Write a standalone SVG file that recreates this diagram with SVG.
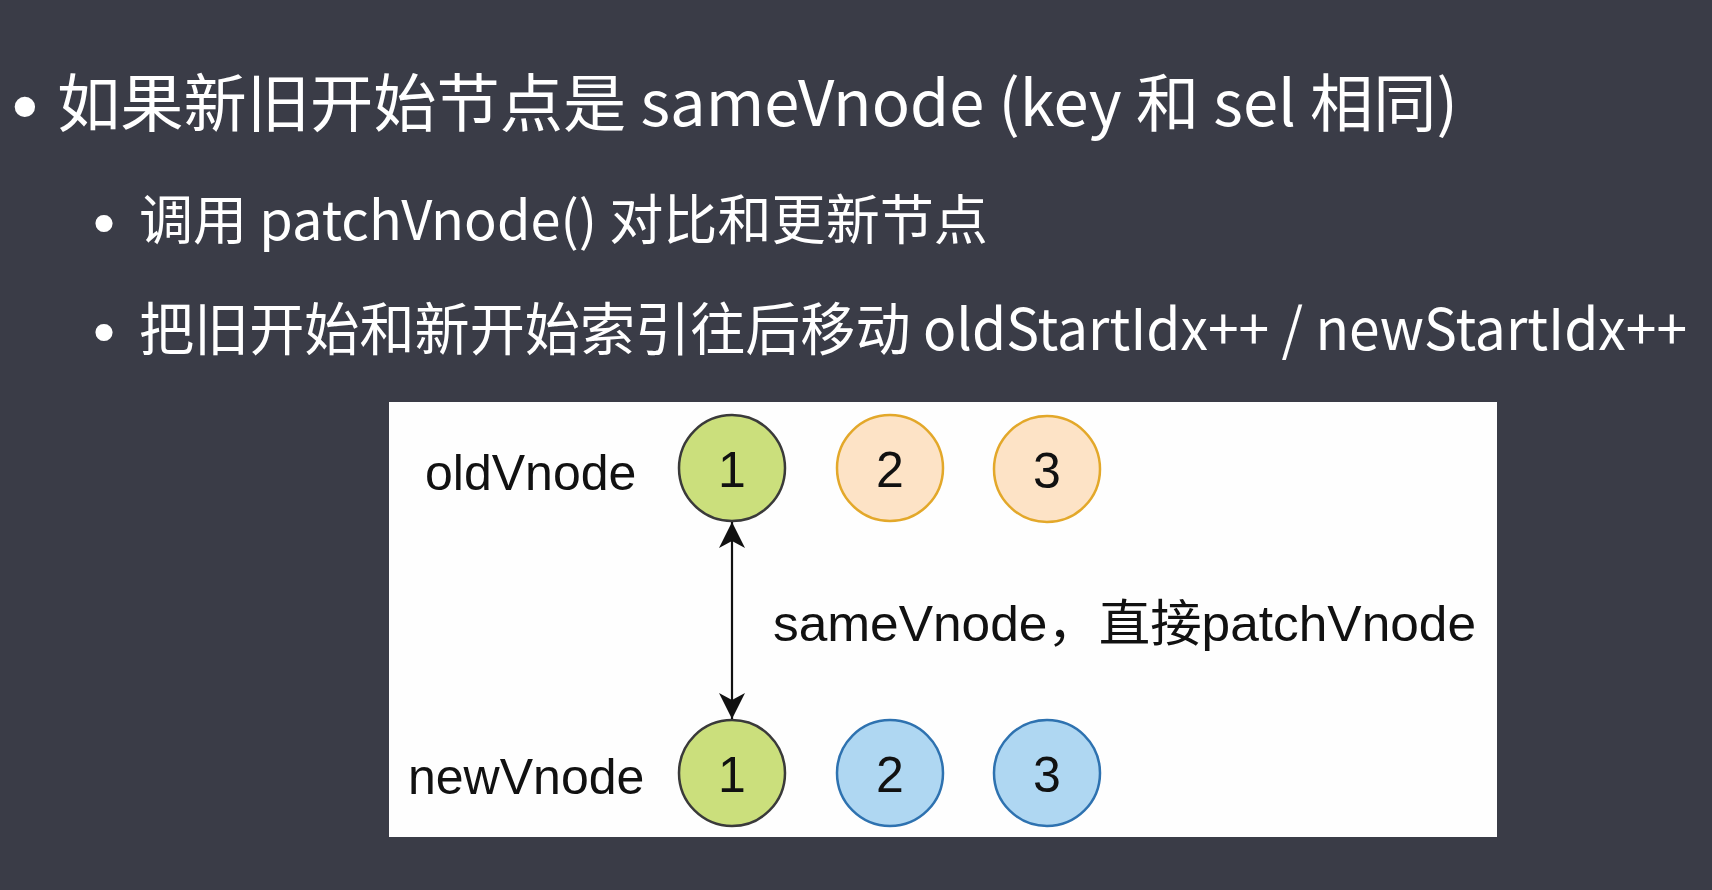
<svg xmlns="http://www.w3.org/2000/svg" width="1712" height="890" viewBox="0 0 1712 890">
<style>
.slide{font-family:"Noto Sans CJK SC","Noto Sans",sans-serif;fill:#ffffff;}
.bul{font-family:"Liberation Sans",Arial,sans-serif;fill:#ffffff;text-anchor:middle;}
.lbl{font-family:"Liberation Sans","Noto Sans CJK SC",Arial,sans-serif;fill:#111111;font-size:50px;}
.num{font-family:"Liberation Sans",Arial,sans-serif;fill:#111111;font-size:50px;text-anchor:middle;}
.green{fill:#cbdf7c;stroke:#3a3a3a;stroke-width:2.5;}
.orange{fill:#fde3c6;stroke:#e3a82a;stroke-width:2.5;}
.blue{fill:#afd7f2;stroke:#2e72b0;stroke-width:2.5;}
.conn{stroke:#111111;stroke-width:2.2;fill:none;}
</style>
<defs>
<marker id="arr" viewBox="0 0 26 26" refX="26" refY="13" markerWidth="26" markerHeight="26" markerUnits="userSpaceOnUse" orient="auto-start-reverse">
<path d="M0,0 L26,13 L0,26 L7,13 Z" fill="#111111"/>
</marker>
</defs>
<rect x="0" y="0" width="1712" height="890" fill="#3a3c47"/>
<g id="title">
<text class="bul" x="25" y="132" font-size="75">•</text>
<text class="slide" x="57" y="126" font-size="63" textLength="1401" lengthAdjust="spacingAndGlyphs">如果新旧开始节点是 sameVnode (key 和 sel 相同)</text>
</g>
<g id="bullet1">
<text class="bul" x="104" y="244" font-size="63">•</text>
<text class="slide" x="139" y="240" font-size="54" textLength="849" lengthAdjust="spacingAndGlyphs">调用 patchVnode() 对比和更新节点</text>
</g>
<g id="bullet2">
<text class="bul" x="104" y="353" font-size="63">•</text>
<text class="slide" x="139" y="350" font-size="57" textLength="1548" lengthAdjust="spacingAndGlyphs">把旧开始和新开始索引往后移动  oldStartIdx++ / newStartIdx++</text>
</g>
<rect x="389" y="402" width="1108" height="435" fill="#fefefe"/>
<g id="label-old"><text class="lbl" x="425" y="490">oldVnode</text></g>
<g id="label-new"><text class="lbl" x="408" y="794">newVnode</text></g>
<g id="old1"><circle class="green" cx="732" cy="468" r="53"/><text class="num" x="732" y="487">1</text></g>
<g id="old2"><circle class="orange" cx="890" cy="468" r="53"/><text class="num" x="890" y="487">2</text></g>
<g id="old3"><circle class="orange" cx="1047" cy="469" r="53"/><text class="num" x="1047" y="488">3</text></g>
<g id="new1"><circle class="green" cx="732" cy="773" r="53"/><text class="num" x="732" y="792">1</text></g>
<g id="new2"><circle class="blue" cx="890" cy="773" r="53"/><text class="num" x="890" y="792">2</text></g>
<g id="new3"><circle class="blue" cx="1047" cy="773" r="53"/><text class="num" x="1047" y="792">3</text></g>
<g id="connectors">
<line class="conn" x1="732" y1="522" x2="732" y2="719" marker-start="url(#arr)" marker-end="url(#arr)"/>
<text class="lbl" x="773" y="641" font-size="51" textLength="703" lengthAdjust="spacingAndGlyphs">sameVnode，直接patchVnode</text>
</g>
</svg>
